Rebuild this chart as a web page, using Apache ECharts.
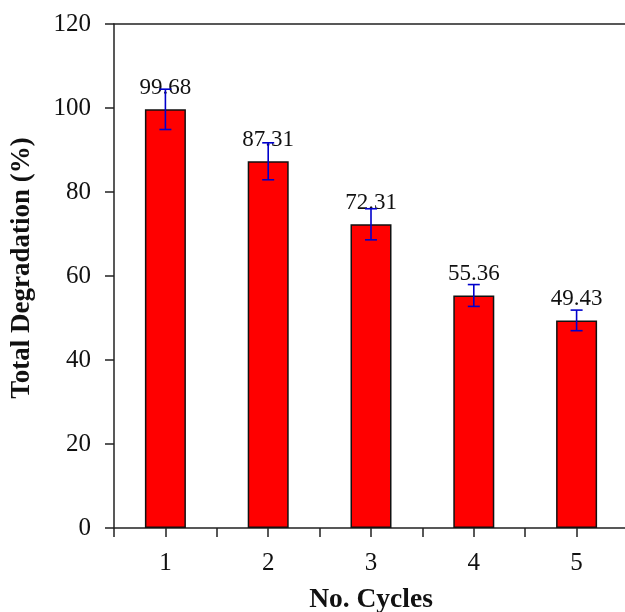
<!DOCTYPE html>
<html>
<head>
<meta charset="utf-8">
<script src="https://cdn.jsdelivr.net/npm/echarts@6/dist/echarts.min.js"></script>
<style>html,body{margin:0;padding:0;background:#fff}#c{width:625px;height:612px}</style>
</head>
<body>
<div id="c"></div>
<script>
const categories = ['1', '2', '3', '4', '5'];
const degradation = [99.68, 87.31, 72.31, 55.36, 49.43];
const errors = [4.8, 4.4, 3.7, 2.6, 2.45];
const yTicks = { min: 0, max: 120, interval: 20 };

const FONT = '"Liberation Serif", "Times New Roman", serif';
const chart = echarts.init(document.getElementById('c'), null, { renderer: 'canvas' });

const errData = degradation.map((v, i) => [i, v - errors[i], v + errors[i]]);

const axisLineStyle = { color: '#222', width: 1.5 };

chart.setOption({
  animation: false,
  backgroundColor: '#fff',
  grid: { left: 114, top: 24, width: 514, height: 504, containLabel: false, outerBoundsMode: 'none' },
  xAxis: [
    {
      type: 'category', data: categories, position: 'bottom',
      boundaryGap: true,
      axisLine: { lineStyle: axisLineStyle },
      axisTick: { show: true, alignWithLabel: false, inside: false, length: 9, lineStyle: axisLineStyle },
      axisLabel: { fontFamily: FONT, fontSize: 25, color: '#111', margin: 23 },
      name: 'No. Cycles', nameLocation: 'middle', nameGap: 58,
      nameTextStyle: { fontFamily: FONT, fontSize: 27.5, fontWeight: 'bold', color: '#111' },
      splitLine: { show: false }
    },
    {
      type: 'category', data: categories, position: 'bottom', gridIndex: 0,
      boundaryGap: true,
      axisLine: { show: false },
      axisTick: { show: true, alignWithLabel: true, inside: false, length: 9, lineStyle: axisLineStyle },
      axisLabel: { show: false },
      splitLine: { show: false }
    },
    {
      type: 'category', data: categories, position: 'top', gridIndex: 0,
      axisLine: { show: true, lineStyle: axisLineStyle },
      axisTick: { show: false },
      axisLabel: { show: false },
      splitLine: { show: false }
    }
  ],
  yAxis: {
    type: 'value', min: yTicks.min, max: yTicks.max, interval: yTicks.interval,
    axisLine: { show: true, lineStyle: axisLineStyle },
    axisTick: { show: true, inside: false, length: 9, lineStyle: axisLineStyle },
    axisLabel: { fontFamily: FONT, fontSize: 25, color: '#111', margin: 23 },
    splitLine: { show: false },
    name: 'Total Degradation (%)', nameLocation: 'middle', nameGap: 78, nameRotate: 90,
    nameTextStyle: { fontFamily: FONT, fontSize: 27, fontWeight: 'bold', color: '#111', padding: [0, 0, 0, 16] }
  },
  series: [
    {
      type: 'bar', data: degradation, xAxisIndex: 0, barWidth: 41,
      itemStyle: { color: '#ff0000', borderColor: '#111', borderWidth: 1.5 },
      label: {
        show: true, position: 'top', distance: 10,
        fontFamily: FONT, fontSize: 23, color: '#111',
        formatter: p => p.value.toFixed(2)
      },
      z: 2
    },
    {
      type: 'custom', xAxisIndex: 0, data: errData, z: 5,
      renderItem: function (params, api) {
        const x = api.value(0);
        const lo = api.coord([x, api.value(1)]);
        const hi = api.coord([x, api.value(2)]);
        const hw = 6;
        const style = { stroke: '#0000cc', lineWidth: 1.6 };
        return {
          type: 'group',
          children: [
            { type: 'line', shape: { x1: hi[0], y1: hi[1], x2: lo[0], y2: lo[1] }, style },
            { type: 'line', shape: { x1: hi[0] - hw, y1: hi[1], x2: hi[0] + hw, y2: hi[1] }, style },
            { type: 'line', shape: { x1: lo[0] - hw, y1: lo[1], x2: lo[0] + hw, y2: lo[1] }, style }
          ]
        };
      }
    }
  ]
});
</script>
</body>
</html>
